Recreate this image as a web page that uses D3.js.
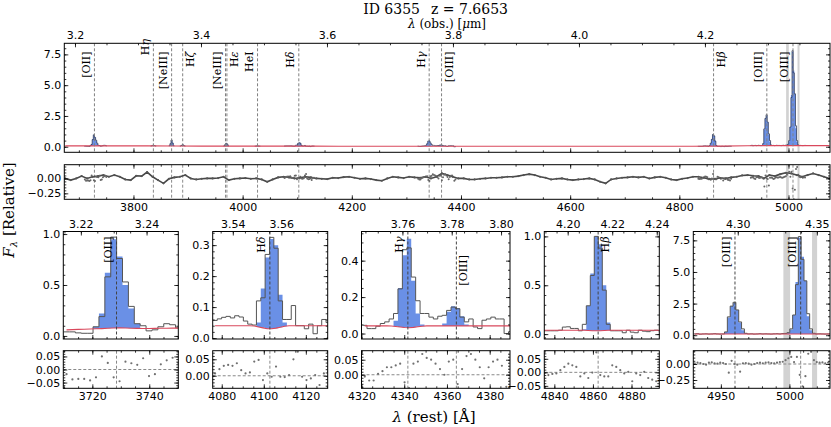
<!DOCTYPE html>
<html>
<head>
<meta charset="utf-8">
<script src="https://cdn.jsdelivr.net/npm/d3@7"></script>
<style>
  body { margin: 0; background: #fff; }
  svg { display: block; }
</style>
</head>
<body>
<script>
const Z = 7.6653
const OBJECT_ID = "6355"
const PIX = 2.07              // rest-frame width of one spectral pixel (Å)
const OBS = (1 + Z) / 1e4     // rest Å -> observed μm

// marked emission lines (rest, vacuum Å)
const lineNames = ["[OII]", "Hη", "[NeIII]", "Hζ", "[NeIII]", "Hε", "HeI", "Hδ", "Hγ", "[OIII]", "Hβ", "[OIII]", "[OIII]"]
const lineWaves = [3728.5, 3836.5, 3869.9, 3890.2, 3968.6, 3971.2, 4027.3, 4102.9, 4341.7, 4364.4, 4862.7, 4960.3, 5008.2]

// masked wavelength ranges (rest Å)
const maskLo = [4995.6, 5016.5]
const maskHi = [5000.5, 5020.2]

// full spectrum: continuum every 50 Å, residual every 10 Å, both from 3675 Å
const fullContStart = 3675
const fullCont = [0.065, 0.068, 0.072, 0.07, 0.062, 0.056, 0.052, 0.05, 0.048, 0.045,
  0.043, 0.041, 0.04, 0.04, 0.041, 0.042, 0.042, 0.041, 0.04, 0.04,
  0.04, 0.04, 0.04, 0.04, 0.05, 0.08, 0.09, 0.09, 0.09]
const fullResidStart = 3675
const fullResid = [0, -0.028, 0, 0.039, 0, 0.028, 0.039, 0.056, 0.028, 0.056,
  0.028, -0.017, -0.028, 0.044, 0.039, 0.106, 0.028, -0.028, -0.083, -0.006,
  0.017, 0.028, 0.056, 0, -0.017, -0.006, 0, 0, 0.006, 0.028,
  -0.028, -0.006, 0, 0.006, -0.006, 0, -0.017, -0.056, -0.017, 0.017,
  0.028, 0.017, 0, 0.011, 0.028, 0.017, 0, -0.006, -0.011, 0.011,
  0.006, 0.022, 0.028, 0.011, -0.006, 0, -0.011, -0.028, -0.039, 0,
  0.028, 0.017, 0.006, 0.028, 0.017, 0.011, 0.028, 0, 0.028, 0.083,
  0.056, 0.028, 0, 0, -0.017, -0.017, -0.006, 0, 0.011, 0.011,
  0.017, 0.028, 0.028, 0.039, 0.056, 0.072, 0.056, 0.028, 0.011, -0.017,
  -0.006, 0, -0.017, -0.028, -0.017, -0.011, 0, -0.017, -0.056, -0.083,
  -0.017, 0, 0.011, 0.017, 0.028, 0.017, 0.028, 0, 0.017, 0.028,
  0.011, -0.017, -0.028, -0.006, 0.006, 0.028, 0.028, 0.011, -0.011, -0.006,
  0.006, 0, 0.017, 0.028, 0.05, 0.056, 0.044, 0.039, 0, 0.056,
  0.039, 0.072, 0.094, 0.083, 0.056, 0.028, 0.056, 0.083, 0.056, 0.028,
  0]

// weak lines only seen in the full spectrum (model flux per pixel)
const weakStart = [3831.3, 3864.7, 3885.0, 3964.7, 4022.1]
const weakCont = [0.055, 0.055, 0.055, 0.05, 0.05]
const hEtaModel = [0.06, 0.09, 0.13, 0.09, 0.06]
const ne3aModel = [0.08, 0.25, 0.55, 0.3, 0.08]
const hZetaModel = [0.06, 0.1, 0.18, 0.1, 0.06]
const ne3bModel = [0.07, 0.16, 0.28, 0.22, 0.08]
const heiModel = [0.05, 0.06, 0.08, 0.06, 0.05]
const weakModels = [hEtaModel, ne3aModel, hZetaModel, ne3bModel, heiModel]

// cut-outs: first pixel edge (Å), flux, model, continuum, residual per pixel
const oiiStart = 3709.9
const oiiFlux  = [0.04, 0.04, 0.03, 0.026, 0.026, 0.09, 0.19, 0.58, 0.97, 0.76, 0.53, 0.29, 0.12, 0.10, 0.05, 0.06, 0.09, 0.12, 0.11, 0.08]
const oiiModel = [0.06, 0.062, 0.064, 0.066, 0.068, 0.09, 0.22, 0.62, 0.95, 0.78, 0.5, 0.27, 0.12, 0.073, 0.073, 0.074, 0.075, 0.076, 0.077, 0.077]
const oiiCont  = [0.06, 0.062, 0.064, 0.066, 0.068, 0.07, 0.072, 0.075, 0.078, 0.079, 0.078, 0.076, 0.074, 0.073, 0.073, 0.074, 0.075, 0.076, 0.077, 0.077]
const oiiResid = [-0.018, -0.038, -0.036, -0.036, -0.042, -0.03, 0.05, 0.025, -0.03, -0.045, 0.03, 0.024, 0.018, 0.043, -0.025, -0.018, 0.02, 0.035, 0.045, 0.025]

const hdStart = 4075.8
const hdFlux  = [0.057, 0.062, 0.067, 0.07, 0.065, 0.072, 0.068, 0.055, 0.045, 0.042, 0.12, 0.13, 0.27, 0.325, 0.29, 0.12, 0.06, 0.06, 0.105, 0.04, 0.04, 0.03, 0.045, 0.014, 0.04, 0.06, 0.05]
const hdModel = [0.04, 0.04, 0.04, 0.04, 0.04, 0.04, 0.04, 0.04, 0.04, 0.039, 0.05, 0.16, 0.26, 0.32, 0.30, 0.14, 0.05, 0.04, 0.04, 0.04, 0.04, 0.04, 0.04, 0.04, 0.04, 0.04, 0.04]
const hdCont  = [0.04, 0.04, 0.04, 0.04, 0.04, 0.04, 0.04, 0.04, 0.04, 0.039, 0.036, 0.033, 0.03, 0.03, 0.032, 0.035, 0.038, 0.04, 0.04, 0.04, 0.04, 0.04, 0.04, 0.04, 0.04, 0.04, 0.04]
const hdResid = [0.007, 0.02, 0.03, 0.033, 0.03, 0.038, 0.017, 0.007, 0.01, 0.043, 0.048, -0.013, 0.007, -0.003, 0.028, -0.003, -0.004, 0.002, 0.05, 0.073, -0.003, -0.013, -0.008, 0.002, -0.028, 0.007, 0.012]

const hgStart = 4320.5
const hgFlux  = [0.045, 0.027, 0.027, 0.04, 0.055, 0.064, 0.08, 0.11, 0.245, 0.46, 0.47, 0.31, 0.18, 0.11, 0.11, 0.09, 0.08, 0.095, 0.10, 0.127, 0.145, 0.136, 0.09, 0.064, 0.08, 0.036, 0.027, 0.073, 0.08, 0.09, 0.08, 0.08, 0.0, 0.01]
const hgModel = [0.042, 0.042, 0.042, 0.042, 0.042, 0.042, 0.041, 0.07, 0.25, 0.43, 0.52, 0.29, 0.11, 0.05, 0.042, 0.042, 0.042, 0.042, 0.055, 0.12, 0.15, 0.14, 0.095, 0.05, 0.042, 0.042, 0.042, 0.042, 0.042, 0.042, 0.042, 0.042, 0.042, 0.042]
const hgCont  = [0.042, 0.042, 0.042, 0.042, 0.042, 0.042, 0.041, 0.039, 0.036, 0.033, 0.032, 0.034, 0.037, 0.04, 0.042, 0.042, 0.042, 0.042, 0.042, 0.042, 0.042, 0.042, 0.042, 0.042, 0.042, 0.042, 0.042, 0.042, 0.042, 0.042, 0.042, 0.042, 0.042, 0.042]
const hgResid = [-0.006, -0.019, -0.019, 0.003, 0.012, 0.025, 0.025, 0.031, 0.037, -0.025, -0.044, 0.037, 0.044, 0.069, 0.056, 0.05, 0.037, 0.019, 0.0, 0.044, 0.05, -0.031, 0.019, 0.062, 0.069, 0.05, 0.025, -0.012, 0.025, 0.044, 0.05, 0.03, -0.04, -0.02]

const hbStart = 4833.8
const hbFlux  = [0.034, 0.034, 0.034, 0.034, 0.04, 0.072, 0.075, 0.058, 0.058, 0.034, 0.1, 0.29, 0.6, 1.0, 0.88, 0.45, 0.1, 0.034, 0.034, 0.034, 0.014, 0.04, 0.02, 0.014, 0.04, 0.03, 0.025, 0.035, 0.04, 0.035]
const hbModel = [0.04, 0.04, 0.04, 0.04, 0.04, 0.04, 0.04, 0.04, 0.04, 0.04, 0.05, 0.29, 0.62, 1.0, 0.92, 0.5, 0.12, 0.04, 0.04, 0.04, 0.04, 0.04, 0.04, 0.04, 0.04, 0.04, 0.04, 0.04, 0.04, 0.04]
const hbCont  = [0.04, 0.04, 0.04, 0.04, 0.04, 0.04, 0.04, 0.04, 0.04, 0.04, 0.039, 0.037, 0.035, 0.034, 0.035, 0.037, 0.039, 0.04, 0.04, 0.04, 0.04, 0.04, 0.04, 0.04, 0.04, 0.04, 0.04, 0.04, 0.04, 0.04]
const hbResid = [-0.004, -0.01, -0.006, -0.004, 0.008, 0.02, 0.032, 0.026, 0.02, -0.015, -0.004, -0.021, -0.001, 0.074, -0.01, -0.015, -0.015, 0.026, 0.02, 0.008, -0.004, 0.002, -0.033, -0.004, -0.01, 0.002, -0.021, -0.027, -0.033, -0.004]

const o3Start = 4929.9
const o3Flux  = [0.1, 0.12, 0.08, 0.1, 0.11, 0.09, 0.1, 0.12, 0.1, 0.09, 0.1,
  0.26, 1.45, 2.3, 2.6, 2.0, 1.05, 0.5, 0.15,
  0.1, 0.11, 0.09, 0.1, 0.12, 0.1, 0.11, 0.1, 0.09, 0.11, 0.12, 0.1, 0.13, 0.14,
  0.2, 0.5, 1.6, 4.0, 7.8, 6.0, 4.3, 1.7, 0.5, 0.15,
  0.1, 0.11, 0.1, 0.09, 0.1, 0.11]
const o3Model = [0.09, 0.09, 0.09, 0.09, 0.09, 0.09, 0.09, 0.09, 0.09, 0.09, 0.09,
  0.25, 1.4, 2.3, 2.55, 2.0, 1.0, 0.4, 0.15,
  0.09, 0.09, 0.09, 0.09, 0.09, 0.09, 0.09, 0.09, 0.09, 0.09, 0.09, 0.09, 0.09, 0.09,
  0.18, 0.45, 1.6, 4.2, 7.7, 6.2, 4.3, 1.5, 0.4, 0.15,
  0.09, 0.09, 0.09, 0.09, 0.09, 0.09]
const o3Cont  = [0.09, 0.09, 0.09, 0.09, 0.09, 0.09, 0.09, 0.09, 0.09, 0.09, 0.09,
  0.09, 0.09, 0.09, 0.09, 0.09, 0.09, 0.09, 0.09,
  0.09, 0.09, 0.09, 0.09, 0.09, 0.09, 0.09, 0.09, 0.09, 0.09, 0.09, 0.09, 0.09, 0.09,
  0.09, 0.09, 0.09, 0.09, 0.09, 0.09, 0.09, 0.09, 0.09, 0.09,
  0.09, 0.09, 0.09, 0.09, 0.09, 0.09]
const o3Resid = [0.01, 0.02, 0.015, 0.0, -0.01, 0.02, 0.025, 0.01, 0.005, 0.02, 0.015, 0.0,
  -0.135, 0.05, 0.0, -0.01, -0.12, 0.01,
  0.015, 0.005, -0.01, 0.0, 0.015, 0.02, 0.01, 0.02, 0.025, 0.015, 0.01, 0.02, 0.03, 0.035,
  0.06, 0.09, 0.11, 0.03, 0.11, -0.17, -0.35, -0.19, 0.16, 0.19, 0.06,
  0.03, 0.02, 0.025, 0.01, 0.02, 0.015]

// tick values
const mainRestTicks = [3800, 4000, 4200, 4400, 4600, 4800, 5000]
const mainObsTicks = [3.2, 3.4, 3.6, 3.8, 4.0, 4.2]
const mainFluxTicks = [0, 2.5, 5, 7.5]
const mainResidTicks = [-0.25, 0]
const oiiRestTicks = [3720, 3740], oiiObsTicks = [3.22, 3.24], oiiFluxTicks = [0, 0.5, 1.0], oiiResidTicks = [-0.05, 0, 0.05]
const hdRestTicks = [4080, 4100, 4120], hdObsTicks = [3.54, 3.56], hdFluxTicks = [0, 0.1, 0.2, 0.3], hdResidTicks = [0, 0.05]
const hgRestTicks = [4320, 4340, 4360, 4380], hgObsTicks = [3.76, 3.78, 3.80], hgFluxTicks = [0, 0.2, 0.4], hgResidTicks = [0, 0.05]
const hbRestTicks = [4840, 4860, 4880], hbObsTicks = [4.20, 4.22, 4.24], hbFluxTicks = [0, 0.5, 1.0], hbResidTicks = [-0.05, 0, 0.05]
const o3RestTicks = [4950, 5000], o3ObsTicks = [4.30, 4.35], o3FluxTicks = [0, 2.5, 5, 7.5], o3ResidTicks = [-0.25, 0]

// ---------- styling / layout ----------
const SANS = "DejaVu Sans", SERIF = "DejaVu Serif"
const BLUE = "#6a90e6", RED = "#d9485c", BAND = "#d2d2d2", DASH = "3,2"
const MAIN = { left: 64.3, right: 830, top: 43.3, bottom: 152.3, rTop: 164.7, rBottom: 199.3 }
const ZOOM = { top: 231.5, bottom: 339, rTop: 350.7, rBottom: 388.3, labelTop: 236.5 }
const labelRight = [3, 5, 9, 10]          // labels placed right of their line
const mainLabelTop = { 1: 39 }
const zoomLabelTop = { 9: 255 }

const panels = [
  { start: oiiStart, flux: oiiFlux, model: oiiModel, cont: oiiCont, resid: oiiResid, lines: [0],
    xDom: [3709.8, 3750.2], px: [63.3, 178.3], yDom: [-0.03, 1.025], rDom: [-0.072, 0.072],
    rest: oiiRestTicks, obs: oiiObsTicks, fy: oiiFluxTicks, ry: oiiResidTicks,
    restMinor: 5, obsMinor: 0.005, fyMinor: 0.1, ryMinor: 0.01 },
  { start: hdStart, flux: hdFlux, model: hdModel, cont: hdCont, resid: hdResid, lines: [7],
    xDom: [4075.7, 4130.4], px: [212.7, 327.7], yDom: [-0.003, 0.344], rDom: [-0.038, 0.076],
    rest: hdRestTicks, obs: hdObsTicks, fy: hdFluxTicks, ry: hdResidTicks,
    restMinor: 5, obsMinor: 0.005, fyMinor: 0.02, ryMinor: 0.01 },
  { start: hgStart, flux: hgFlux, model: hgModel, cont: hgCont, resid: hgResid, lines: [8, 9],
    xDom: [4320.0, 4389.5], px: [361.5, 510], yDom: [-0.03, 0.56], rDom: [-0.045, 0.08],
    rest: hgRestTicks, obs: hgObsTicks, fy: hgFluxTicks, ry: hgResidTicks,
    restMinor: 5, obsMinor: 0.005, fyMinor: 0.05, ryMinor: 0.01 },
  { start: hbStart, flux: hbFlux, model: hbModel, cont: hbCont, resid: hbResid, lines: [10],
    xDom: [4834.8, 4894.4], px: [544.3, 659.3], yDom: [-0.05, 1.05], rDom: [-0.059, 0.08],
    rest: hbRestTicks, obs: hbObsTicks, fy: hbFluxTicks, ry: hbResidTicks,
    restMinor: 5, obsMinor: 0.005, fyMinor: 0.1, ryMinor: 0.01 },
  { start: o3Start, flux: o3Flux, model: o3Model, cont: o3Cont, resid: o3Resid, lines: [11, 12],
    xDom: [4929.9, 5029.6], px: [693.3, 830], yDom: [-0.3, 8.2], rDom: [-0.38, 0.208],
    rest: o3RestTicks, obs: o3ObsTicks, fy: o3FluxTicks, ry: o3ResidTicks,
    restMinor: 10, obsMinor: 0.01, fyMinor: 0.5, ryMinor: 0.05 }
]

const svg = d3.select("body").append("svg")
  .attr("width", 831).attr("height", 427)
  .attr("font-family", SANS)
const defs = svg.append("defs")

let clipCount = 0
function clipped(x0, x1, y0, y1) {
  const id = "clip" + clipCount++
  defs.append("clipPath").attr("id", id).append("rect")
    .attr("x", x0).attr("y", y0).attr("width", x1 - x0).attr("height", y1 - y0)
  return svg.append("g").attr("clip-path", `url(#${id})`)
}

function frame(x0, x1, y0, y1) {
  svg.append("rect").attr("x", x0).attr("y", y0).attr("width", x1 - x0).attr("height", y1 - y0)
    .attr("fill", "none").attr("stroke", "#000").attr("stroke-width", 1)
}

function axis(orient, scale, at, values, size, fmt, pad) {
  const make = { bottom: d3.axisBottom, top: d3.axisTop, left: d3.axisLeft, right: d3.axisRight }[orient]
  const ax = make(scale).tickValues(values).tickSize(-size).tickPadding(pad || 3)
    .tickFormat(fmt || (() => ""))
  const horiz = orient === "bottom" || orient === "top"
  const g = svg.append("g")
    .attr("transform", horiz ? `translate(0,${at})` : `translate(${at},0)`)
    .call(ax)
  g.select(".domain").remove()
  g.selectAll("line").attr("stroke", "#000").attr("stroke-width", 0.8)
  g.selectAll("text").attr("font-family", SANS).attr("font-size", 11).attr("fill", "#000")
}

function minorTicks(scale, step) {
  const [a, b] = scale.domain()
  return d3.range(Math.ceil(a / step) * step, b, step)
}

function ticks(orient, scale, at, major, minorStep, fmt, pad) {
  axis(orient, scale, at, minorTicks(scale, minorStep), 2)
  axis(orient, scale, at, major, 4, fmt, pad)
}

// pixel edges + centres, so curveStep draws whole pixels
function stepPts(start, values) {
  const pts = values.map((v, i) => [start + PIX * (i + 0.5), v])
  pts.unshift([start, values[0]])
  pts.push([start + PIX * values.length, values[values.length - 1]])
  return pts
}
function stepBand(start, lo, hi) {
  const pts = hi.map((v, i) => [start + PIX * (i + 0.5), lo[i], Math.max(v, lo[i])])
  pts.unshift([start, pts[0][1], pts[0][2]])
  const last = pts[pts.length - 1]
  pts.push([start + PIX * hi.length, last[1], last[2]])
  return pts
}

function drawCutout(g, x, y, p, outline, width) {
  g.append("path").datum(stepBand(p.start, p.cont, p.model))
    .attr("fill", BLUE)
    .attr("d", d3.area().curve(d3.curveStep).x(d => x(d[0])).y0(d => y(d[1])).y1(d => y(d[2])))
  g.append("path").datum(stepPts(p.start, p.flux))
    .attr("fill", "none").attr("stroke", outline).attr("stroke-width", width)
    .attr("d", d3.line().curve(d3.curveStep).x(d => x(d[0])).y(d => y(d[1])))
}

function drawBands(g, x, y0, y1) {
  maskLo.forEach((lo, i) => {
    g.append("rect").attr("x", x(lo)).attr("width", x(maskHi[i]) - x(lo))
      .attr("y", y0).attr("height", y1 - y0).attr("fill", BAND)
  })
}

function vline(g, xv, y0, y1, color) {
  g.append("line").attr("x1", xv).attr("x2", xv).attr("y1", y0).attr("y2", y1)
    .attr("stroke", color).attr("stroke-width", 1).attr("stroke-dasharray", DASH)
}

function lineLabel(i, xv, yTop) {
  const right = labelRight.includes(i)
  const t = svg.append("text")
    .attr("transform", `translate(${right ? xv + 11 : xv - 4.5},${yTop}) rotate(-90)`)
    .attr("text-anchor", "end")
    .attr("font-family", SERIF).attr("font-size", 11).attr("fill", "#000")
  const name = lineNames[i]
  if (name[0] === "H" && name !== "HeI") {
    t.append("tspan").text("H")
    t.append("tspan").attr("font-style", "italic").text(name.slice(1))
  } else {
    t.text(name)
  }
}

// ---------- full spectrum ----------
const xMain = d3.scaleLinear().domain([3673.3, 5076]).range([MAIN.left, MAIN.right])
const xMainObs = d3.scaleLinear().domain(xMain.domain().map(v => v * OBS)).range(xMain.range())
const yMain = d3.scaleLinear().domain([-0.45, 8.4]).range([MAIN.bottom, MAIN.top])
const rMain = d3.scaleLinear().domain([-0.35, 0.23]).range([MAIN.rBottom, MAIN.rTop])

const topG = clipped(MAIN.left, MAIN.right, MAIN.top, MAIN.bottom)
drawBands(topG, xMain, MAIN.top, MAIN.bottom)
panels.forEach(p => drawCutout(topG, xMain, yMain, p, "#2f3a5a", 0.8))
weakModels.forEach((m, i) => {
  drawCutout(topG, xMain, yMain,
    { start: weakStart[i], flux: m, model: m, cont: m.map(() => weakCont[i]) }, "#2f3a5a", 0.8)
})
topG.append("path")
  .datum(fullCont.map((v, i) => [fullContStart + 50 * i, v]))
  .attr("fill", "none").attr("stroke", RED).attr("stroke-width", 1.2)
  .attr("d", d3.line().x(d => xMain(d[0])).y(d => yMain(d[1])))
lineWaves.forEach(w => vline(topG, xMain(w), MAIN.top, MAIN.bottom, "#808080"))

const resG = clipped(MAIN.left, MAIN.right, MAIN.rTop, MAIN.rBottom)
drawBands(resG, xMain, MAIN.rTop, MAIN.rBottom)
lineWaves.forEach(w => vline(resG, xMain(w), MAIN.rTop, MAIN.rBottom, "#8a8a8a"))
const fullResidPts = fullResid.map((v, i) => [fullResidStart + 10 * i, v])
resG.append("path").datum(fullResidPts)
  .attr("fill", "none").attr("stroke", "#474747").attr("stroke-width", 1.6)
  .attr("d", d3.line().x(d => xMain(d[0])).y(d => rMain(d[1])))
panels.forEach(p => {
  resG.selectAll(null).data(p.resid).join("circle")
    .attr("cx", (d, i) => xMain(p.start + PIX * (i + 0.5))).attr("cy", d => rMain(d))
    .attr("r", 1).attr("fill", "#666")
})
resG.selectAll(null).data(fullResidPts).join("circle")
  .attr("cx", d => xMain(d[0])).attr("cy", d => rMain(d[1]))
  .attr("r", 1.1).attr("fill", "#555")

frame(MAIN.left, MAIN.right, MAIN.top, MAIN.bottom)
frame(MAIN.left, MAIN.right, MAIN.rTop, MAIN.rBottom)
ticks("top", xMainObs, MAIN.top, mainObsTicks, 0.05, d3.format(".1f"), 4)
ticks("bottom", xMain, MAIN.bottom, mainRestTicks, 50)
ticks("left", yMain, MAIN.left, mainFluxTicks, 0.5, d3.format(".1f"))
ticks("right", yMain, MAIN.right, mainFluxTicks, 0.5)
ticks("top", xMain, MAIN.rTop, mainRestTicks, 50)
ticks("bottom", xMain, MAIN.rBottom, mainRestTicks, 50, d3.format("d"), 3.5)
ticks("left", rMain, MAIN.left, mainResidTicks, 0.05, d3.format(".2f"))
ticks("right", rMain, MAIN.right, mainResidTicks, 0.05)

lineWaves.forEach((w, i) => lineLabel(i, xMain(w), mainLabelTop[i] !== undefined ? mainLabelTop[i] : 51.5))

// ---------- zoomed cut-outs ----------
panels.forEach(p => {
  const x = d3.scaleLinear().domain(p.xDom).range(p.px)
  const xObs = d3.scaleLinear().domain(p.xDom.map(v => v * OBS)).range(p.px)
  const y = d3.scaleLinear().domain(p.yDom).range([ZOOM.bottom, ZOOM.top])
  const r = d3.scaleLinear().domain(p.rDom).range([ZOOM.rBottom, ZOOM.rTop])

  const g = clipped(p.px[0], p.px[1], ZOOM.top, ZOOM.bottom)
  drawBands(g, x, ZOOM.top, ZOOM.bottom)
  drawCutout(g, x, y, p, "#555", 1)
  g.append("path")
    .datum(p.cont.map((v, i) => [p.start + PIX * (i + 0.5), v]))
    .attr("fill", "none").attr("stroke", RED).attr("stroke-width", 1.1)
    .attr("d", d3.line().x(d => x(d[0])).y(d => y(d[1])))
  p.lines.forEach(li => vline(g, x(lineWaves[li]), ZOOM.top, ZOOM.bottom, "#444"))

  const rg = clipped(p.px[0], p.px[1], ZOOM.rTop, ZOOM.rBottom)
  drawBands(rg, x, ZOOM.rTop, ZOOM.rBottom)
  rg.append("line").attr("x1", p.px[0]).attr("x2", p.px[1]).attr("y1", r(0)).attr("y2", r(0))
    .attr("stroke", "#888").attr("stroke-width", 1).attr("stroke-dasharray", DASH)
  p.lines.forEach(li => vline(rg, x(lineWaves[li]), ZOOM.rTop, ZOOM.rBottom, "#888"))
  rg.selectAll(null).data(p.resid).join("circle")
    .attr("cx", (d, i) => x(p.start + PIX * (i + 0.5))).attr("cy", d => r(d))
    .attr("r", 1.1).attr("fill", "#707070")

  frame(p.px[0], p.px[1], ZOOM.top, ZOOM.bottom)
  frame(p.px[0], p.px[1], ZOOM.rTop, ZOOM.rBottom)
  ticks("top", xObs, ZOOM.top, p.obs, p.obsMinor, d3.format(".2f"), 4)
  ticks("bottom", x, ZOOM.bottom, p.rest, p.restMinor)
  ticks("left", y, p.px[0], p.fy, p.fyMinor, d3.format(".1f"))
  ticks("right", y, p.px[1], p.fy, p.fyMinor)
  ticks("top", x, ZOOM.rTop, p.rest, p.restMinor)
  ticks("bottom", x, ZOOM.rBottom, p.rest, p.restMinor, d3.format("d"), 3.5)
  ticks("left", r, p.px[0], p.ry, p.ryMinor, d3.format(".2f"))
  ticks("right", r, p.px[1], p.ry, p.ryMinor)

  p.lines.forEach(li => lineLabel(li, x(lineWaves[li]),
    zoomLabelTop[li] !== undefined ? zoomLabelTop[li] : ZOOM.labelTop))
})

// ---------- titles ----------
svg.append("text").attr("x", 420).attr("y", 14).attr("text-anchor", "end")
  .attr("font-family", SERIF).attr("font-size", 14).text("ID " + OBJECT_ID)
svg.append("text").attr("x", 431).attr("y", 14)
  .attr("font-family", SERIF).attr("font-size", 14).text("z = " + Z.toFixed(4))

const obsLab = svg.append("text").attr("x", 447).attr("y", 27.5).attr("text-anchor", "middle")
  .attr("font-family", SERIF).attr("font-size", 12)
obsLab.append("tspan").attr("font-style", "italic").text("λ")
obsLab.append("tspan").text(" (obs.) [")
obsLab.append("tspan").attr("font-style", "italic").text("μ")
obsLab.append("tspan").text("m]")

const restLab = svg.append("text").attr("x", 434).attr("y", 422).attr("text-anchor", "middle")
  .attr("font-family", SERIF).attr("font-size", 15)
restLab.append("tspan").attr("font-style", "italic").text("λ")
restLab.append("tspan").text(" (rest) [Å]")

const fLab = svg.append("text").attr("transform", "translate(14,210) rotate(-90)")
  .attr("text-anchor", "middle").attr("font-family", SERIF).attr("font-size", 15)
fLab.append("tspan").attr("font-style", "italic").text("F")
fLab.append("tspan").attr("font-size", 10).attr("font-style", "italic").attr("dy", 3).text("λ")
fLab.append("tspan").attr("dy", -3).text(" [Relative]")
</script>
</body>
</html>
